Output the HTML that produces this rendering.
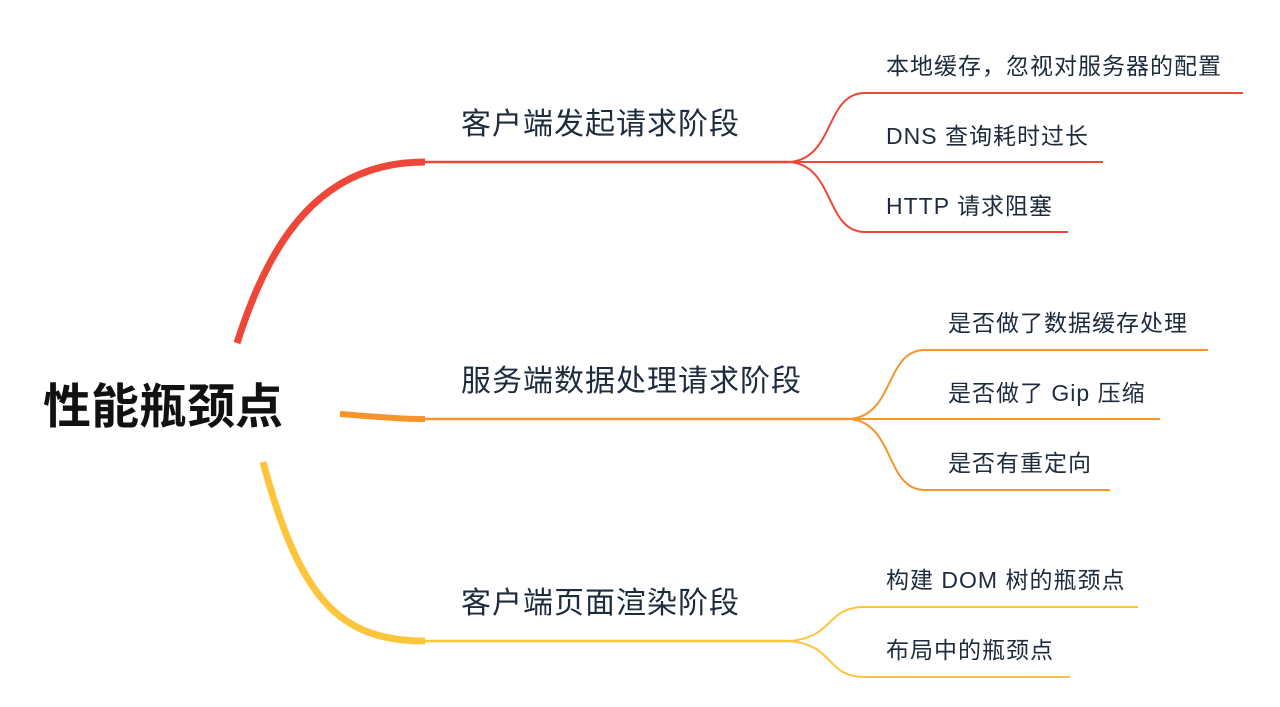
<!DOCTYPE html>
<html><head><meta charset="utf-8"><style>
html,body{margin:0;padding:0;background:#fff;}
svg{display:block}
text{font-family:"Liberation Sans","Noto Sans CJK SC",sans-serif;fill:#1d2b3d}
.l1{font-size:30px;letter-spacing:1px}
.l2{font-size:23px;letter-spacing:1px}
</style></head><body>
<svg width="1280" height="707" viewBox="0 0 1280 707">
<!-- red -->
<path d="M237,343 C270,240 320,162 425,162" fill="none" stroke="#ee4638" stroke-width="7"/>
<path d="M425,162 L790,162" fill="none" stroke="#ee4638" stroke-width="2.5"/>
<g fill="none" stroke="#ee4638" stroke-width="2">
<path d="M790,162 C835,158 825,93 865,93 L1243,93"/>
<path d="M790,162 L1103,162"/>
<path d="M790,162 C835,166 825,232 865,232 L1068,232"/>
</g>
<!-- orange -->
<path d="M340,414 C380,417 400,419 425,419" fill="none" stroke="#f8942c" stroke-width="6"/>
<path d="M425,419 L850,419" fill="none" stroke="#f8942c" stroke-width="2.5"/>
<g fill="none" stroke="#f8942c" stroke-width="2">
<path d="M850,419 C895,415 885,350 925,350 L1208,350"/>
<path d="M850,419 L1160,419"/>
<path d="M850,419 C895,423 885,490 925,490 L1110,490"/>
</g>
<!-- yellow -->
<path d="M263,462 C300,600 340,641 425,641" fill="none" stroke="#fdc53c" stroke-width="7"/>
<path d="M425,641 L790,641" fill="none" stroke="#fdc53c" stroke-width="2.5"/>
<g fill="none" stroke="#fdc53c" stroke-width="2">
<path d="M790,641 C835,637 825,607 865,607 L1138,607"/>
<path d="M790,641 C835,645 825,677 865,677 L1070,677"/>
</g>
<text x="43" y="423" style="font-size:48px;font-weight:bold;fill:#111">性能瓶颈点</text>
<text class="l1" x="461" y="134">客户端发起请求阶段</text>
<text class="l1" x="461" y="391">服务端数据处理请求阶段</text>
<text class="l1" x="461" y="613">客户端页面渲染阶段</text>
<text class="l2" x="886" y="74">本地缓存，忽视对服务器的配置</text>
<text class="l2" x="886" y="144">DNS 查询耗时过长</text>
<text class="l2" x="886" y="214">HTTP 请求阻塞</text>
<text class="l2" x="948" y="331">是否做了数据缓存处理</text>
<text class="l2" x="948" y="401">是否做了 Gip 压缩</text>
<text class="l2" x="948" y="471">是否有重定向</text>
<text class="l2" x="886" y="588">构建 DOM 树的瓶颈点</text>
<text class="l2" x="886" y="658">布局中的瓶颈点</text>
</svg>
</body></html>
